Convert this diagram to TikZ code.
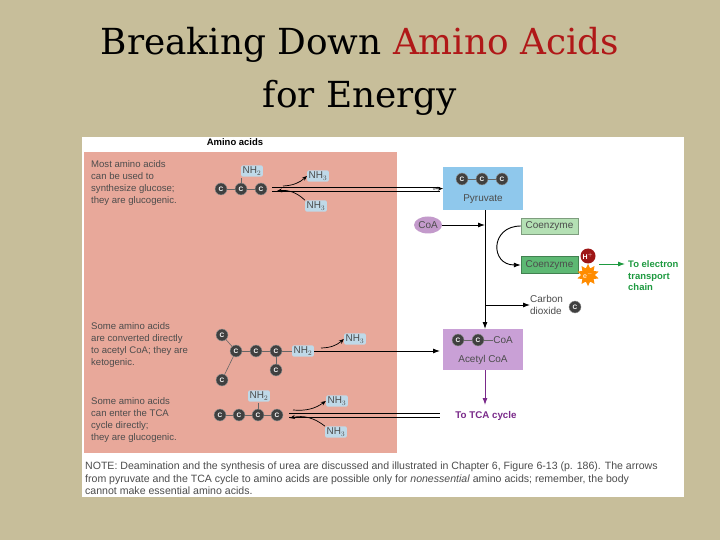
\documentclass[tikz,border=0pt]{standalone}
\usepackage{fontspec}
\setmainfont{DejaVu Serif}
\setsansfont{Liberation Sans}
\usetikzlibrary{shapes.geometric,shapes.misc,arrows.meta}
\definecolor{bg}{HTML}{C7BE9A}
\definecolor{salmon}{HTML}{E8A89A}
\definecolor{pyr}{HTML}{8FC8EC}
\definecolor{nh}{HTML}{BFD9E8}
\definecolor{acoa}{HTML}{C9A0D6}
\definecolor{coa}{HTML}{C39ACB}
\definecolor{lg}{HTML}{B4E0B4}
\definecolor{dg}{HTML}{5DB873}
\definecolor{gt}{HTML}{1E9A40}
\definecolor{pt}{HTML}{7A2A8A}
\definecolor{red}{HTML}{B01818}
\begin{document}
\begin{tikzpicture}[x=1bp,y=-1bp,
  txt/.style={font=\sffamily\fontsize{10}{12}\selectfont,text=black!70,inner sep=0pt},
  ltxt/.style={font=\sffamily\fontsize{9.6}{12.2}\selectfont,text=black!70,inner sep=0pt},
  C/.style={circle,fill=black!75,draw=black!40,minimum size=12bp,inner sep=0pt,text=white,font=\sffamily\bfseries\fontsize{6.5}{6.5}\selectfont,node contents={C}},
  nhb/.style={rounded corners=2bp,fill=nh,inner sep=1.5bp,font=\sffamily\fontsize{10}{10}\selectfont,text=black!70},
  bond/.style={black!60,line width=0.6bp},
  arr/.style={black,line width=0.9bp,-{Latex[length=7bp,width=5bp]}},
  sarr/.style={black,line width=0.7bp,-{Stealth[length=5bp,width=4bp]}},
  dbl/.style={black,line width=0.6bp}]
\useasboundingbox (0,0) rectangle (720,540);
\fill[bg] (0,0) rectangle (720,540);
\node[font=\fontsize{36}{40}\selectfont] (t1) at (360,45) {Breaking Down \textcolor{red}{Amino Acids}};
\node[font=\fontsize{36}{40}\selectfont] (t2) at (360,98) {for Energy};
\fill[white] (82,137) rectangle (684,497);
\fill[salmon] (84,152) rectangle (397,453);
\node[txt,font=\sffamily\bfseries\fontsize{9.5}{10}\selectfont,text=black] (aa) at (235,142) {Amino acids};
% left texts
\node[ltxt,anchor=north west,align=left] (l1) at (91,160) {Most amino acids\\can be used to\\synthesize glucose;\\they are glucogenic.};
\node[ltxt,anchor=north west,align=left] (l2) at (91,322) {Some amino acids\\are converted directly\\to acetyl CoA; they are\\ketogenic.};
\node[ltxt,anchor=north west,align=left] (l3) at (91,397) {Some amino acids\\can enter the TCA\\cycle directly;\\they are glucogenic.};
% row 1
\node[nhb] (n1) at (252,171) {NH$_2$};
\draw[bond] (241,189) -- (241,178);
\draw[bond] (221,189) -- (261,189);
\node (a1) at (221,189) [C]; \node (a2) at (241,189) [C]; \node (a3) at (261,189) [C];
\node[nhb] (n2) at (318,176) {NH$_3$};
\node[nhb] (n3) at (316,206) {NH$_3$};
\draw[dbl] (272,187) -- (440,187) (272,191) -- (440,191);
\draw[sarr] (283,186) to[bend right=20] (n2.west);
\draw[sarr] (n3.north west) to[bend right=25] (277,191);
% pyruvate
\node[fill=pyr,minimum width=80bp,minimum height=43bp,inner sep=0pt] (pyr) at (483,188.5) {};
\draw[sarr] (433,189) -- (pyr.west);
\draw[bond] (462,179) -- (502,179);
\node (b1) at (462,179) [C]; \node (b2) at (482,179) [C]; \node (b3) at (502,179) [C];
\node[txt] (pyt) at (483,199) {Pyruvate};
\node[ellipse,fill=coa,minimum width=28bp,minimum height=17bp,inner sep=0pt,txt] (coa) at (428,225) {CoA};
\node[fill=lg,draw=lg!70!black,minimum width=57bp,minimum height=16bp,inner sep=0pt,txt] (ce1) at (549.5,226) {Coenzyme};
\node[fill=dg,draw=dg!70!black,minimum width=57bp,minimum height=17bp,inner sep=0pt,txt] (ce2) at (549.5,265) {Coenzyme};
\node[star,star points=10,star point ratio=1.6,fill=orange!90!yellow,minimum size=21bp,inner sep=0pt,text=white,font=\sffamily\fontsize{7}{7}\selectfont] (em) at (588,275) {e$^-$};
\node[circle,fill=red!90!black,minimum size=15bp,inner sep=0pt,text=white,font=\sffamily\bfseries\fontsize{7}{7}\selectfont] (hp) at (588,256) {H$^+$};
\node[txt,anchor=west,align=left,text=gt,font=\sffamily\bfseries\fontsize{9.5}{11.5}\selectfont] (etc) at (628,276) {To electron\\transport\\chain};
\draw[gt,line width=0.9bp,-{Latex[length=7bp,width=5bp]}] (599,264) -- (625,264);
\coordinate (v1) at (485,225);
\coordinate (v2) at (485,305);
\node[fill=acoa,minimum width=80bp,minimum height=41bp,inner sep=0pt] (ac) at (483,349.5) {};
\draw[black,line width=0.9bp] (pyr.south -| 485,0) -- (v2);
\draw[arr] (v2) -- (485,329);
\draw[arr] (coa.east) -- (v1);
\draw[black,line width=0.9bp,-{Latex[length=7bp,width=5bp]}] (ce1.west) .. controls (490,226) and (490,265) .. (ce2.west);
\node[txt,align=left,anchor=west] (co2) at (530,305) {Carbon\\dioxide};
\node (c2) at (575,307) [C];
\draw[arr] (v2) -- (co2.west);
% acetyl CoA
\draw[bond] (458,340) -- (478,340);
\node (d1) at (458,340) [C]; \node (d2) at (478,340) [C];
\node[txt] (dcoa) at (503,340) {CoA};
\draw[bond] (484,340) -- (dcoa.west);
\node[txt] (act) at (483,360) {Acetyl CoA};
\node[txt,text=pt,font=\sffamily\bfseries\fontsize{9.8}{10}\selectfont] (tca) at (486,416) {To TCA cycle};
\draw[pt,line width=0.9bp,-{Latex[length=7bp,width=5bp]}] (ac.south -| 485,0) -- (485,405);
% row 2
\draw[bond] (222,335) -- (236,351) -- (222,380);
\draw[bond] (236,351) -- (296,351);
\draw[bond] (276,351) -- (276,370);
\node (e1) at (222,335) [C]; \node (e2) at (236,351) [C]; \node (e3) at (256,351) [C];
\node (e4) at (276,351) [C]; \node (e5) at (276,370) [C]; \node (e6) at (222,380) [C];
\node[nhb] (n4) at (303,351) {NH$_2$};
\node[nhb] (n5) at (355,339) {NH$_3$};
\draw[arr] (n4.east) -- (440,351);
\draw[sarr] (321,348) to[bend right=20] (n5.west);
% row 3
\node[nhb] (n6) at (259,396) {NH$_2$};
\draw[bond] (258,415) -- (258,403);
\draw[bond] (220,415) -- (277,415);
\node (f1) at (220,415) [C]; \node (f2) at (239,415) [C]; \node (f3) at (258,415) [C]; \node (f4) at (277,415) [C];
\node[nhb] (n7) at (337,401) {NH$_3$};
\node[nhb] (n8) at (336,432) {NH$_3$};
\draw[dbl] (289,413) -- (440,413) (289,417) -- (440,417);
\draw[sarr] (293,410) to[bend right=20] (n7.west);
\draw[sarr] (n8.north west) to[bend right=25] (290,418);
% note
\node[txt,anchor=north west,align=left,font=\sffamily\fontsize{10.6}{12.5}\selectfont] (note) at (85,462) {NOTE: Deamination and the synthesis of urea are discussed and illustrated in Chapter 6, Figure 6-13 (p. 186). The arrows\\from pyruvate and the TCA cycle to amino acids are possible only for \textit{nonessential} amino acids; remember, the body\\cannot make essential amino acids.};
\end{tikzpicture}
\end{document}
